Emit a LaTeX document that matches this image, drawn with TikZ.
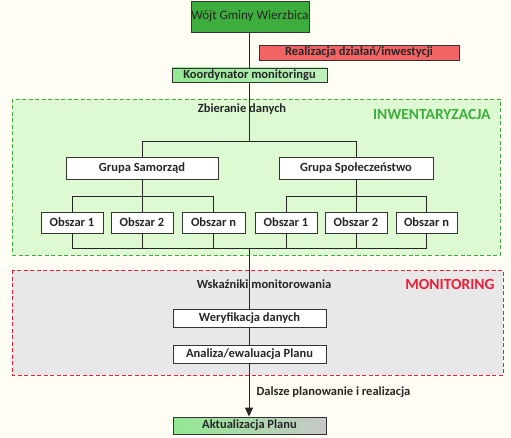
\documentclass[tikz,border=0pt]{standalone}
\usepackage{fontspec}
\setmainfont{Carlito}
\usetikzlibrary{arrows.meta}
\definecolor{bgc}{HTML}{FFFDF4}
\definecolor{wojt}{HTML}{3DAE3D}
\definecolor{redbox}{HTML}{F26464}
\definecolor{lgreen}{HTML}{92E892}
\definecolor{invfill}{HTML}{DDFAD2}
\definecolor{invline}{HTML}{3DAE3D}
\definecolor{monfill}{HTML}{E8E8E8}
\definecolor{monline}{HTML}{E8203A}
\definecolor{boxline}{HTML}{333333}
\tikzset{
  box/.style={draw=boxline, line width=0.9pt, fill=white, minimum height=#1, inner sep=0pt, font=\fontsize{12.5}{14}\selectfont\bfseries, text=black!85},
  box/.default=21pt,
  lbl/.style={font=\fontsize{12.5}{14}\selectfont\bfseries, text=black!85},
  conn/.style={draw=black!85, line width=0.9pt},
  region/.style={line width=0.9pt, dash pattern=on 4pt off 2.5pt},
  rtitle/.style={font=\fontsize{15.5}{17}\selectfont\bfseries, anchor=east}
}
\begin{document}
\begin{tikzpicture}[x=1pt,y=-1pt]
\useasboundingbox[fill=bgc] (0,0) rectangle (511,438);
% regions
\draw[region, draw=invline, fill=invfill] (12,99) rectangle (500,255);
\draw[region, draw=monline, fill=monfill] (12,270) rectangle (503,375);
\node[rtitle, text=invline] (inv) at (494,114) {INWENTARYZACJA};
\node[rtitle, text=monline] (mon) at (498,284) {MONITORING};
% top
\node[box=31pt, fill=wojt, minimum width=118pt, font=\fontsize{13}{15}\selectfont] (wojt) at (250,16.5) {Wójt Gminy Wierzbica};
\node[box=15pt, fill=redbox, minimum width=200pt] (real) at (359,52.5) {Realizacja działań/inwestycji};
\node[box=14pt, left color=lgreen, right color=lgreen!60!white, minimum width=155pt] (koord) at (249.5,75) {Koordynator monitoringu};
% inventory
\coordinate (top) at (249,141);
\node[lbl] (zbier) at (242,109) {Zbieranie danych};
\node[box=22pt, minimum width=152pt] (gs) at (142,168) {Grupa Samorząd};
\node[box=22pt, minimum width=154pt] (gp) at (356,168) {Grupa Społeczeństwo};
\foreach \n/\x in {l1/72,l2/142,ln/213.5,r1/286,r2/356,rn/426.5}{
  \coordinate (u\n) at (\x,196);
  \coordinate (d\n) at (\x,248);
}
\node[box=21pt, minimum width=62pt] (l1) at (72,222.5) {Obszar 1};
\node[box=21pt, minimum width=62pt] (l2) at (142,222.5) {Obszar 2};
\node[box=21pt, minimum width=63pt] (ln) at (213.5,222.5) {Obszar n};
\node[box=21pt, minimum width=62pt] (r1) at (286,222.5) {Obszar 1};
\node[box=21pt, minimum width=62pt] (r2) at (356,222.5) {Obszar 2};
\node[box=21pt, minimum width=61pt] (rn) at (426.5,222.5) {Obszar n};
\coordinate (bot) at (249,248);
\coordinate (gsT) at (142,141);
\coordinate (gpT) at (356,141);
% monitoring
\node[lbl] (wsk) at (264,284) {Wskaźniki monitorowania};
\node[box=18pt, minimum width=153pt] (wer) at (249.5,318) {Weryfikacja danych};
\node[box=18pt, minimum width=153pt] (ana) at (249.5,354) {Analiza/ewaluacja Planu};
\node[box=17pt, left color=lgreen, right color=black!22, minimum width=153pt] (akt) at (249.5,425.5) {Aktualizacja Planu};
\node[lbl, anchor=west] (dal) at (253,392) {Dalsze planowanie i realizacja};
% connectors
\draw[conn] (wojt.south -| 249,0) -- (koord.north -| 249,0);
\draw[conn] (koord.south -| 249,0) -- (top);
\draw[conn] (gsT) -- (gpT);
\draw[conn] (gsT) -- (gs.north);
\draw[conn] (gpT) -- (gp.north);
\draw[conn] (gs.south) -- (gs.south |- ul2);
\draw[conn] (gp.south) -- (gp.south |- ur2);
\draw[conn] (ul1) -- (uln);
\draw[conn] (ur1) -- (urn);
\foreach \n in {l1,l2,ln,r1,r2,rn}{
  \draw[conn] (u\n) -- (\n.north);
  \draw[conn] (\n.south) -- (d\n);
}
\draw[conn] (dl1) -- (drn);
\draw[conn] (bot) -- (wer.north -| 249,0);
\draw[conn] (wer.south -| 249,0) -- (ana.north -| 249,0);
\draw[conn, -{Triangle[width=8pt,length=9pt]}] (ana.south -| 249,0) -- (akt.north -| 249,0);
\end{tikzpicture}
\end{document}
